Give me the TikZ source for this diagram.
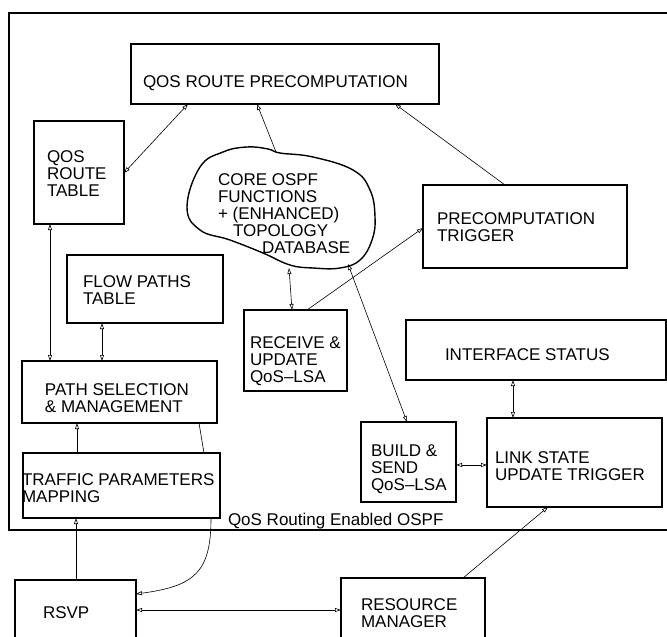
\documentclass[tikz,border=0pt]{standalone}
\usepackage{fontspec}
\setmainfont{Liberation Sans}
\usetikzlibrary{arrows.meta}
\begin{document}
\begin{tikzpicture}[x=1pt,y=-1pt,
  box/.style={draw,line width=1.4pt,rectangle,inner sep=0pt,outer sep=0pt,anchor=north west},
  lbl/.style={anchor=north west,inner sep=0pt,outer sep=0pt,align=left,font=\fontsize{17}{17}\selectfont},
  conn/.style={line width=0.6pt},
  tip/.tip={Triangle[open,length=6pt,width=4pt]},
  ar/.style={conn,-tip},
  dar/.style={conn,tip-tip}]
\clip (0,0) rectangle (667,637);
\fill[white] (0,0) rectangle (667,637);
% outer frame
\draw[line width=1.4pt] (680,13) -- (9,13) -- (9,530) -- (680,530);
% boxes
\node[box,minimum width=308pt,minimum height=60pt] (qrp) at (131,44) {};
\node[box,minimum width=90pt,minimum height=103pt] (qrt) at (34,121) {};
\node[box,minimum width=156pt,minimum height=68pt] (fpt) at (67,255) {};
\node[box,minimum width=103pt,minimum height=81pt] (rcv) at (244,310) {};
\node[box,minimum width=204pt,minimum height=83pt] (ptr) at (423,185) {};
\node[box,minimum width=195pt,minimum height=62pt] (psm) at (22,361) {};
\node[box,minimum width=197pt,minimum height=65pt] (tpm) at (23,453) {};
\node[box,minimum width=260pt,minimum height=60pt] (ifs) at (406,320) {};
\node[box,minimum width=95pt,minimum height=80pt] (bld) at (361,422) {};
\node[box,minimum width=175pt,minimum height=89pt] (lsu) at (487,418) {};
\node[box,minimum width=121pt,minimum height=80pt] (rsvp) at (15,580) {};
\node[box,minimum width=144pt,minimum height=82pt] (rm) at (341,578) {};
% cloud
\draw[line width=1.4pt] plot[smooth cycle,tension=0.7] coordinates {
  (187,207) (200,167) (223,152) (247,147) (268,149) (280,153) (313,157)
  (353,170) (370,190) (375,217) (372,240) (360,260) (340,268) (313,268)
  (290,265) (263,253) (230,240) (200,230)};
\coordinate (c1) at (276,152);
\coordinate (c2) at (289,268);
\coordinate (c3) at (348,264);
% texts
\newcommand{\st}{\rule{0pt}{13pt}}
\node[lbl] (tqrp) at (143,74) {\st QOS ROUTE PRECOMPUTATION};
\node[lbl] (tqrt) at (47,149) {\st QOS\\ROUTE\\TABLE};
\node[lbl] (tcl) at (218,172) {\st CORE OSPF\\FUNCTIONS\\+ (ENHANCED)\\\hspace*{15pt}TOPOLOGY\\\hspace*{44pt}DATABASE};
\node[lbl] (tfpt) at (83,274) {\st FLOW PATHS\\TABLE};
\node[lbl] (trcv) at (250,335) {\st RECEIVE \&\\UPDATE\\QoS--LSA};
\node[lbl] (tptr) at (437,211) {\st PRECOMPUTATION\\TRIGGER};
\node[lbl] (tpsm) at (45,382) {\st PATH SELECTION\\\& MANAGEMENT};
\node[lbl] (ttpm) at (22,472) {\st TRAFFIC PARAMETERS\\MAPPING};
\node[lbl] (tifs) at (445,347) {\st INTERFACE STATUS};
\node[lbl] (tbld) at (371,443) {\st BUILD \&\\SEND\\QoS--LSA};
\node[lbl] (tlsu) at (495,450) {\st LINK STATE\\UPDATE TRIGGER};
\node[lbl] (trsvp) at (43,605) {\st RSVP};
\node[lbl] (trm) at (361,597) {\st RESOURCE\\MANAGER};
\node[lbl] (tos) at (228,512) {\st QoS Routing Enabled OSPF};
% connectors
\draw[dar] ([xshift=57pt]qrp.south west) -- ([yshift=-52pt]qrt.north east);
\draw[ar] (c1) -- ([xshift=126pt]qrp.south west);
\draw[ar] ([xshift=82pt]ptr.north west) -- ([xshift=264pt]qrp.south west);
\draw[dar] ([xshift=16pt]qrt.south west) -- ([xshift=28pt]psm.north west);
\draw[dar] ([xshift=35pt]fpt.south west) -- ([xshift=80pt]psm.north west);
\draw[dar] (c2) -- ([xshift=48pt]rcv.north west);
\draw[ar] ([xshift=63pt]rcv.north west) -- ([yshift=-43pt]ptr.north west);
\draw[dar] (c3) -- ([xshift=46pt]bld.north west);
\draw[dar] ([xshift=107pt]ifs.south west) -- ([xshift=26pt]lsu.north west);
\draw[dar] ([yshift=-43pt]bld.north east) -- ([yshift=-47pt]lsu.north west);
\draw[ar] ([xshift=54pt]tpm.north west) -- ([xshift=55pt]psm.south west);
\draw[conn] ([xshift=177pt]psm.south west) -- ([xshift=181pt]tpm.north west);
\draw[ar] ([xshift=61pt]rsvp.north west) -- ([xshift=53pt]tpm.south west);
\draw[ar] ([xshift=188pt]tpm.south west) .. controls (211,572) and (195,586) .. ([yshift=-14pt]rsvp.north east);
\draw[dar] ([yshift=-30pt]rsvp.north east) -- ([yshift=-32pt]rm.north west);
\draw[ar] ([xshift=122pt]rm.north west) -- ([xshift=61pt]lsu.south west);
\end{tikzpicture}
\end{document}
